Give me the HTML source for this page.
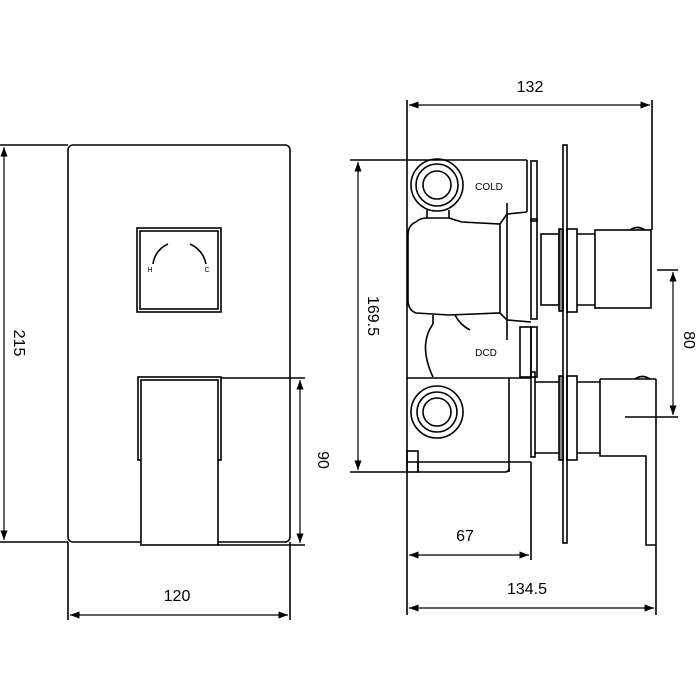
<!DOCTYPE html>
<html><head><style>body{margin:0;background:#fff}svg{display:block}</style></head><body>
<svg width="700" height="700" viewBox="0 0 700 700" xmlns="http://www.w3.org/2000/svg" font-family="Liberation Sans, sans-serif">
<defs><marker id="a" markerWidth="8" markerHeight="6" refX="8" refY="3" orient="auto-start-reverse"><path d="M0,0 L8,3 L0,6 z" fill="#000"/></marker></defs>
<g fill="none" stroke="#000" stroke-width="1.6">
<!-- LEFT VIEW -->
<rect x="68" y="145" width="222" height="397" rx="5"/>
<rect x="137" y="228" width="84" height="84"/>
<rect x="140" y="231" width="78" height="78"/>
<path d="M168,244 Q155,250 153,264"/>
<path d="M190,244 Q203,250 206,264"/>
<rect x="138" y="377" width="83" height="83"/>
<rect x="141" y="380" width="77" height="165" fill="#fff"/>
<line x1="221" y1="378" x2="305" y2="378"/>
<line x1="218" y1="545" x2="305" y2="545"/>
<line x1="300" y1="380" x2="300" y2="543" stroke-width="1.2" marker-start="url(#a)" marker-end="url(#a)"/>
<line x1="0" y1="145" x2="68" y2="145"/>
<line x1="0" y1="542" x2="68" y2="542"/>
<line x1="4" y1="147" x2="4" y2="540" stroke-width="1.2" marker-start="url(#a)" marker-end="url(#a)"/>
<line x1="68" y1="542" x2="68" y2="620"/>
<line x1="290" y1="542" x2="290" y2="620"/>
<line x1="70" y1="615" x2="288" y2="615" stroke-width="1.2" marker-start="url(#a)" marker-end="url(#a)"/>
<!-- RIGHT VIEW -->
<line x1="407" y1="100" x2="407" y2="615"/>
<line x1="652" y1="100" x2="652" y2="230"/>
<line x1="409" y1="105" x2="650" y2="105" stroke-width="1.2" marker-start="url(#a)" marker-end="url(#a)"/>
<line x1="350" y1="160" x2="527" y2="160"/>
<line x1="350" y1="472" x2="407" y2="472"/>
<line x1="358" y1="162" x2="358" y2="470" stroke-width="1.2" marker-start="url(#a)" marker-end="url(#a)"/>
<line x1="527" y1="160" x2="527" y2="212"/>
<rect x="531" y="161" width="6" height="60"/>
<circle cx="437" cy="185" r="26"/><circle cx="437" cy="185" r="21"/><circle cx="437" cy="185" r="14"/>
<path d="M427,210 L427,218 M449,210 L449,218"/>
<path d="M416,222 Q420,218 427,218 L449,218 Q455,220 462,222 L500,224 L507,214 L527,212"/>
<path d="M416,222 Q408,225 408,235 L408,300 Q408,310 416,313 L449,315 L500,313 L507,320 L531,322"/>
<line x1="500" y1="224" x2="500" y2="313"/>
<line x1="507" y1="203" x2="507" y2="340"/>
<rect x="531" y="219" width="6" height="100"/>
<rect x="520" y="327" width="11" height="50"/>
<rect x="531" y="327" width="6" height="50"/>
<path d="M433,315 L433,324 M455,315 Q460,325 470,330"/>
<path d="M433,324 Q418,345 433,377"/>
<path d="M407,378 L531,378 M407,462 L531,462"/>
<line x1="509" y1="378" x2="509" y2="472"/>
<path d="M418,462 L418,472 L505,472 Q509,472 509,468"/>
<rect x="407" y="451" width="11" height="21"/>
<circle cx="437" cy="412" r="26"/><circle cx="437" cy="412" r="20"/><circle cx="437" cy="412" r="14"/>
<rect x="531" y="372" width="4" height="85"/>
<rect x="541" y="234" width="18" height="71"/>
<rect x="559" y="229" width="4" height="82" fill="#888"/>
<rect x="563" y="145" width="4" height="398"/>
<rect x="567" y="229" width="10" height="83"/>
<path d="M577,234 L595,234 M577,305 L595,305"/>
<rect x="595" y="230" width="56" height="78"/>
<path d="M630,230 Q637,225 645,230"/>
<path d="M535,382 L559,382 M535,453 L559,453"/>
<rect x="559" y="376" width="4" height="84" fill="#888"/>
<rect x="567" y="376" width="10" height="84"/>
<path d="M577,382 L600,382 M577,453 L600,453"/>
<path d="M600,379 L656,379 M600,379 L600,456 L646,456 L646,545 L656,545"/>
<line x1="656" y1="379" x2="656" y2="615"/>
<path d="M635,379 Q642,374 650,379"/>
<line x1="625" y1="417" x2="678" y2="417"/>
<line x1="657" y1="270" x2="678" y2="270"/>
<line x1="673" y1="272" x2="673" y2="415" stroke-width="1.2" marker-start="url(#a)" marker-end="url(#a)"/>
<line x1="531" y1="462" x2="531" y2="560"/>
<line x1="409" y1="555" x2="529" y2="555" stroke-width="1.2" marker-start="url(#a)" marker-end="url(#a)"/>
<line x1="409" y1="608" x2="654" y2="608" stroke-width="1.2" marker-start="url(#a)" marker-end="url(#a)"/>
</g>
<g font-size="16" fill="#000" text-anchor="middle">
<text x="18" y="343" transform="rotate(90 18 343)" dominant-baseline="middle">215</text>
<text x="322" y="460" transform="rotate(90 322 460)" dominant-baseline="middle">90</text>
<text x="372" y="316" transform="rotate(90 372 316)" dominant-baseline="middle">169.5</text>
<text x="688" y="340" transform="rotate(90 688 340)" dominant-baseline="middle">80</text>
<text x="177" y="601">120</text>
<text x="530" y="92">132</text>
<text x="465" y="541">67</text>
<text x="527" y="594">134.5</text>
<text x="489" y="190" font-size="10">COLD</text>
<text x="486" y="356" font-size="10">DCD</text>
<text x="150" y="272" font-size="7">H</text>
<text x="207" y="272" font-size="7">C</text>
</g>
</svg>
</body></html>
